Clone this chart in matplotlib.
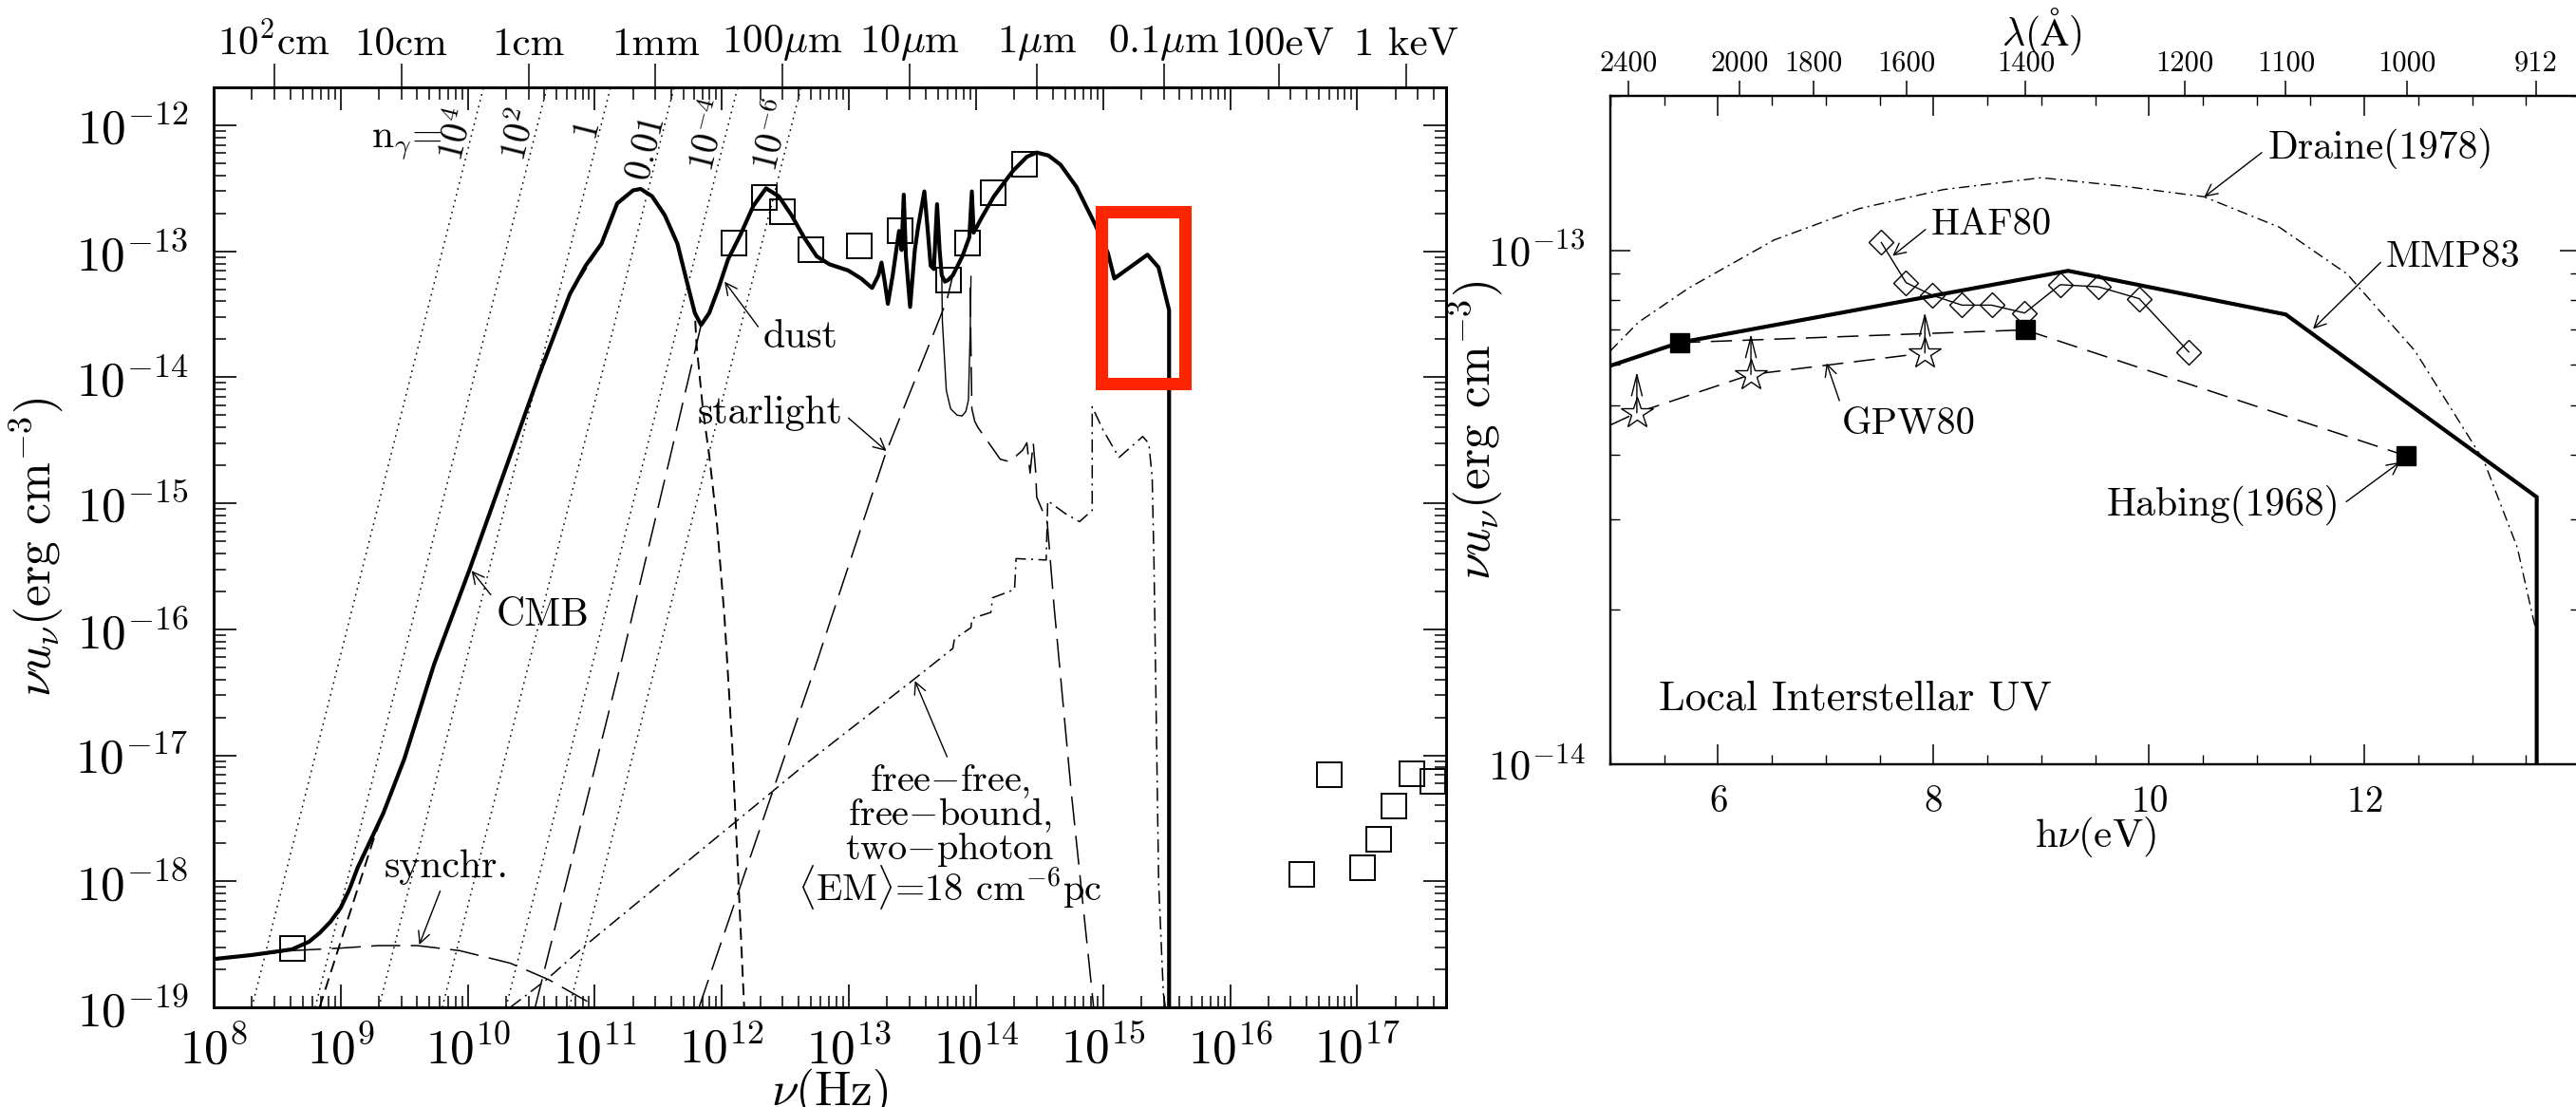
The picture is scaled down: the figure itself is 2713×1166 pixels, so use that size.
import numpy as np
import matplotlib
matplotlib.use('Agg')
import matplotlib.pyplot as plt
import matplotlib.ticker as mticker
from matplotlib.patches import Rectangle

# ---------------- left panel: values as log10(nu/Hz), log10(nu u_nu / erg cm^-3) ----------------
TOTAL_LOGNU = [8.0, 8.3, 8.617, 8.75, 8.834, 8.92, 9.0, 9.07, 9.134, 9.335, 9.50, 9.734, 10.016,
               10.565, 10.803, 10.927, 11.052, 11.176, 11.30, 11.36, 11.45, 11.55, 11.65, 11.724,
               11.787, 11.836, 11.90, 11.974, 12.048, 12.148, 12.248, 12.347, 12.447, 12.547,
               12.646, 12.746, 12.846, 12.995, 13.095, 13.182, 13.232, 13.256, 13.281, 13.306,
               13.344, 13.394, 13.414, 13.431, 13.448, 13.481, 13.518, 13.543, 13.593, 13.618,
               13.643, 13.668, 13.693, 13.713, 13.730, 13.755, 13.780, 13.817, 13.892, 13.947,
               13.967, 13.981, 14.041, 14.141, 14.29, 14.40, 14.477, 14.57, 14.664, 14.789,
               14.938, 15.038, 15.088, 15.349, 15.436, 15.519, 15.519]
TOTAL_LOGU = [-18.617, -18.585, -18.54, -18.48, -18.41, -18.32, -18.21, -18.06, -17.89, -17.46,
              -17.03, -16.28, -15.52, -13.97, -13.341, -13.115, -12.94, -12.62, -12.517, -12.505,
              -12.563, -12.713, -12.94, -13.24, -13.49, -13.585, -13.49, -13.29, -13.065, -12.864,
              -12.638, -12.50, -12.563, -12.713, -12.889, -13.04, -13.103, -13.153, -13.216,
              -13.291, -13.191, -13.090, -13.241, -13.417, -13.191, -12.839, -12.990, -12.550,
              -13.040, -13.442, -12.990, -12.814, -12.525, -12.814, -13.115, -13.141, -12.626,
              -12.990, -13.191, -13.241, -13.228, -13.191, -13.040, -12.889, -12.525, -12.852,
              -12.739, -12.563, -12.362, -12.25, -12.216, -12.24, -12.312, -12.487, -12.789,
              -13.015, -13.216, -13.027, -13.128, -13.467, -19.5]

CMB_LOGNU = [8.834, 9.05, 9.267, 9.335, 9.50, 9.734, 10.016, 10.565, 10.803, 11.052, 11.176,
             11.30, 11.36, 11.45, 11.55, 11.65, 11.724, 11.787, 11.80, 11.85, 11.90, 11.96,
             12.02, 12.08, 12.13, 12.175]
CMB_LOGU = [-19.0, -18.32, -17.64, -17.46, -17.03, -16.28, -15.52, -13.97, -13.341, -12.94,
            -12.62, -12.517, -12.505, -12.563, -12.713, -12.94, -13.24, -13.49, -13.74, -14.25,
            -14.62, -15.15, -15.9, -16.9, -18.0, -19.0]

DUST_LOGNU = [10.53, 11.203, 11.381, 11.60, 11.836]
DUST_LOGU = [-19.0, -16.28, -15.527, -14.6, -13.585]

DUST_THIN_LOGNU = [13.73, 13.735, 13.766, 13.80, 13.85, 13.89, 13.92, 13.94, 13.954, 13.96]
DUST_THIN_LOGU = [-13.19, -13.558, -14.106, -14.25, -14.30, -14.307, -14.27, -14.18, -13.63, -13.2]

STAR_LOGNU = [11.82, 12.74, 13.29, 13.77, 13.817]
STAR_LOGU = [-19.0, -16.28, -14.6, -13.39, -13.191]

STAR_TAIL_LOGNU = [13.953, 13.967, 13.99, 14.016, 14.19, 14.265, 14.365, 14.40, 14.425, 14.45,
                   14.47, 14.477, 14.56, 14.614, 14.75, 14.91, 14.925]
STAR_TAIL_LOGU = [-13.29, -14.25, -14.35, -14.40, -14.65, -14.67, -14.58, -14.52, -14.76, -14.52,
                  -14.76, -14.95, -15.15, -15.82, -17.3, -18.85, -19.0]

SYNCH_LOGNU = [8.0, 8.3, 8.617, 9.0, 9.3, 9.6, 9.935, 10.335, 10.636, 10.97, 11.02]
SYNCH_LOGU = [-18.62, -18.59, -18.55, -18.53, -18.51, -18.51, -18.55, -18.65, -18.78, -18.97, -19.0]

FF_LOGNU = [10.335, 10.62, 10.90, 12.37, 12.67, 13.52, 13.817, 13.83, 13.96, 13.967, 14.116,
            14.13, 14.303, 14.315, 14.552, 14.564, 14.70, 14.814, 14.914, 14.914, 15.0, 15.125,
            15.312, 15.36, 15.386, 15.40, 15.437, 15.474, 15.49]
FF_LOGU = [-19.0, -18.78, -18.53, -17.31, -17.06, -16.39, -16.152, -16.077, -15.987, -15.914,
           -15.866, -15.75, -15.684, -15.439, -15.45, -14.98, -15.08, -15.146, -15.056, -14.234,
           -14.42, -14.636, -14.47, -14.526, -14.80, -15.457, -18.01, -18.89, -19.0]

DATA_LOGNU = [8.617, 12.098, 12.335, 12.479, 12.70, 13.08, 13.40, 13.787, 13.936, 14.132, 14.383,
              16.565, 16.78, 17.043, 17.17, 17.29, 17.427, 17.593]
DATA_LOGU = [-18.53, -12.934, -12.575, -12.688, -12.99, -12.96, -12.834, -13.228, -12.934, -12.533,
             -12.307, -17.948, -17.155, -17.889, -17.667, -17.406, -17.149, -17.207]

# photon occupation number lines, read at the bottom (1e-19) and top (2e-12) of the frame
NGAMMA_NU_LO = [2.0e8, 6.3e8, 2.0e9, 6.3e9, 2.0e10, 6.3e10]
NGAMMA_NU_HI = [1.33e10, 4.2e10, 1.33e11, 4.2e11, 1.33e12, 4.2e12]
NGAMMA_U = [1e-19, 2e-12]
NGAMMA_LABELS = [r'$10^4$', r'$10^2$', r'$1$', r'$0.01$', r'$10^{-4}$', r'$10^{-6}$']
NGAMMA_LABEL_NU = [8.3e9, 2.6e10, 8.9e10, 2.6e11, 8.2e11, 2.57e12]
NGAMMA_LABEL_U = [8.4e-13, 8.4e-13, 9.0e-13, 6.5e-13, 8.3e-13, 8.3e-13]

TOP_NU = [3e8, 3e9, 3e10, 3e11, 3e12, 3e13, 3e14, 3e15, 2.418e16, 2.418e17]
TOP_LABELS = [r'10$^2$cm', '10cm', '1cm', '1mm', r'100$\mu$m', r'10$\mu$m', r'1$\mu$m',
              r'0.1$\mu$m', '100eV', '1 keV']

HIGHLIGHT_NU = [9.64e14, 4.39e15]
HIGHLIGHT_U = [8.9e-15, 2.06e-13]

# ---------------- right panel: h nu (eV) vs nu u_nu (erg cm^-3) ----------------
MMP_EV = [5.0, 5.64, 9.25, 11.27, 13.6, 13.6]
MMP_U = [5.96e-14, 6.61e-14, 9.12e-14, 7.50e-14, 3.31e-14, 1e-14]

DRAINE_EV = [5.0, 5.26, 5.73, 6.52, 7.31, 8.09, 9.0, 9.79, 10.51, 11.21, 11.84, 12.47, 13.11,
             13.42, 13.56, 13.6]
DRAINE_U = [6.37e-14, 7.24e-14, 8.45e-14, 1.047e-13, 1.205e-13, 1.312e-13, 1.384e-13, 1.33e-13,
            1.271e-13, 1.109e-13, 8.99e-14, 6.37e-14, 3.89e-14, 2.64e-14, 1.95e-14, 1.8e-14]

HABING_EV = [5.64, 8.85, 12.39]
HABING_U = [6.61e-14, 7.0e-14, 3.98e-14]

GPW_LINE_EV = [5.0, 5.246, 6.305, 7.92]
GPW_LINE_U = [4.57e-14, 4.83e-14, 5.73e-14, 6.31e-14]
GPW_EV = [5.246, 6.305, 7.92]
GPW_U = [4.83e-14, 5.73e-14, 6.31e-14]

HAF_EV = [7.516, 7.745, 7.99, 8.264, 8.54, 8.846, 9.176, 9.53, 9.91, 10.37]
HAF_U = [1.035e-13, 8.65e-14, 8.17e-14, 7.82e-14, 7.82e-14, 7.55e-14, 8.57e-14, 8.49e-14,
         8.05e-14, 6.34e-14]

LAMBDA_TICKS = [2400, 2000, 1800, 1600, 1400, 1200, 1100, 1000, 912]
HC_EV_ANGSTROM = 12398.42

W, H = 2713, 1166

plt.rcParams['font.family'] = 'cmr10'
plt.rcParams['mathtext.fontset'] = 'cm'
plt.rcParams['axes.unicode_minus'] = False
plt.rcParams['axes.formatter.use_mathtext'] = True
plt.rcParams['lines.scale_dashes'] = False

SHORT_DASH = (0, (9, 5))
LONG_DASH = (0, (22, 8))
DASH_DOT = (0, (10, 4, 1.5, 4))
DOTTED = (0, (1.2, 3.4))


def pw(a):
    return np.power(10.0, np.asarray(a, dtype=float))


def note(axis, text, tip, at, relpos, size, **kw):
    axis.annotate(text, xy=tip, xytext=at, ha='center', va='center', fontsize=size,
                  arrowprops=dict(arrowstyle='->', mutation_scale=22, lw=1.0, color='k',
                                  relpos=relpos, shrinkA=3, shrinkB=0), **kw)


fig = plt.figure(figsize=(W / 100, H / 100), dpi=100)

# ======================= left panel =======================
ax = fig.add_axes([225 / W, (H - 1061) / H, 1298 / W, 969 / H])
ax.set_xscale('log')
ax.set_yscale('log')
ax.set_xlim(1e8, 5e17)
ax.set_ylim(1e-19, 2e-12)

for lo, hi in zip(NGAMMA_NU_LO, NGAMMA_NU_HI):
    ax.plot([lo, hi], NGAMMA_U, color='k', lw=1.1, ls=DOTTED)

ax.plot(pw(SYNCH_LOGNU), pw(SYNCH_LOGU), color='k', lw=1.1, ls=LONG_DASH)
ax.plot(pw(CMB_LOGNU), pw(CMB_LOGU), color='k', lw=1.4, ls=SHORT_DASH)
ax.plot(pw(DUST_LOGNU), pw(DUST_LOGU), color='k', lw=1.1, ls=LONG_DASH)
ax.plot(pw(STAR_LOGNU), pw(STAR_LOGU), color='k', lw=1.1, ls=LONG_DASH)
ax.plot(pw(STAR_TAIL_LOGNU), pw(STAR_TAIL_LOGU), color='k', lw=1.1, ls=LONG_DASH)
ax.plot(pw(DUST_THIN_LOGNU), pw(DUST_THIN_LOGU), color='k', lw=1.0)
ax.plot(pw(FF_LOGNU), pw(FF_LOGU), color='k', lw=1.1, ls=DASH_DOT)
ax.plot(pw(TOTAL_LOGNU), pw(TOTAL_LOGU), color='k', lw=3.0, solid_joinstyle='round')
ax.plot(pw(DATA_LOGNU), pw(DATA_LOGU), ls='none', marker='s', ms=18.4, mfc='none',
        mec='k', mew=1.4)

ax.add_patch(Rectangle((HIGHLIGHT_NU[0], HIGHLIGHT_U[0]), HIGHLIGHT_NU[1] - HIGHLIGHT_NU[0],
                       HIGHLIGHT_U[1] - HIGHLIGHT_U[0], fill=False, ec='#ff2400', lw=9.4,
                       joinstyle='miter', zorder=10, clip_on=False))

ax.text(3.29e9, 7.2e-13, r'n$_\gamma$=', fontsize=30, ha='center', va='center')
for lab, x, y in zip(NGAMMA_LABELS, NGAMMA_LABEL_NU, NGAMMA_LABEL_U):
    ax.text(x, y, lab, fontsize=28, rotation=76, rotation_mode='anchor',
            ha='center', va='center')

note(ax, 'dust', (1.05e12, 5.74e-14), (4.16e12, 2.09e-14), (0, 0.6), 30)
note(ax, 'starlight', (1.97e13, 2.6e-15), (2.40e12, 5.2e-15), (1, 0.5), 30)
note(ax, 'CMB', (1.07e10, 2.92e-16), (3.86e10, 1.29e-16), (0, 0.9), 30)
note(ax, 'synchr.', (4.15e9, 3.14e-19), (6.78e9, 1.30e-18), (0.47, 0), 30)
note(ax, 'free$-$free,\nfree$-$bound,\ntwo$-$photon\n'
         r'$\langle$EM$\rangle$=18 cm$^{-6}$pc',
     (3.3e13, 3.9e-17), (6.2e13, 2.24e-18), (0.5, 1), 29, linespacing=0.85,
     multialignment='center')

ax.xaxis.set_major_locator(mticker.LogLocator(base=10, numticks=30))
ax.xaxis.set_minor_locator(mticker.LogLocator(base=10, subs=np.arange(2, 10), numticks=300))
ax.yaxis.set_major_locator(mticker.LogLocator(base=10, numticks=30))
ax.yaxis.set_minor_locator(mticker.LogLocator(base=10, subs=np.arange(2, 10), numticks=300))
ax.xaxis.set_minor_formatter(mticker.NullFormatter())
ax.yaxis.set_minor_formatter(mticker.NullFormatter())

ax.set_xlabel(r'$\nu$(Hz)', fontsize=37)
ax.xaxis.set_label_coords(0.5, -0.064)
ax.set_ylabel(r'$\nu u_\nu$(erg cm$^{-3}$)', fontsize=37)
ax.yaxis.set_label_coords(-0.1202, 0.5)

axt = ax.twiny()
axt.set_xscale('log')
axt.set_xlim(ax.get_xlim())
axt.xaxis.set_major_locator(mticker.FixedLocator(TOP_NU))
axt.xaxis.set_major_formatter(mticker.FixedFormatter(TOP_LABELS))
axt.xaxis.set_minor_locator(mticker.NullLocator())
axt.tick_params(axis='x', direction='out', length=18, width=1.1, pad=1, labelsize=31)

ax.tick_params(which='both', direction='in', top=True, right=True, labeltop=False,
               labelright=False)
ax.tick_params(which='major', length=17, width=1.2, labelsize=37)
ax.tick_params(which='minor', length=9, width=1.1)
ax.tick_params(axis='y', pad=19)
ax.tick_params(axis='x', pad=14)
for a in (ax, axt):
    for s in a.spines.values():
        s.set_linewidth(2.0)

# ======================= right panel =======================
bx = fig.add_axes([1696 / W, (H - 805) / H, 1021 / W, 704.4 / H])
bx.set_yscale('log')
bx.set_xlim(5, 14)
bx.set_ylim(1e-14, 2e-13)

bx.plot(DRAINE_EV, DRAINE_U, color='k', lw=1.0, ls=(0, (8, 3.5, 1.5, 3.5)))
bx.plot(HABING_EV, HABING_U, color='k', lw=1.1, ls=(0, (16, 8)))
bx.plot(HABING_EV, HABING_U, ls='none', marker='s', ms=13.7, color='k')
bx.plot(GPW_LINE_EV, GPW_LINE_U, color='k', lw=1.1, ls=(0, (16, 8)))
bx.plot(GPW_EV, GPW_U, ls='none', marker='*', ms=25, mfc='white', mec='k', mew=1.0)
for x, y in zip(GPW_EV, GPW_U):
    bx.annotate('', xy=(x, y * 1.2), xytext=(x, y),
                arrowprops=dict(arrowstyle='->,head_length=0.8,head_width=0.2',
                                mutation_scale=20, lw=1.0, color='k', shrinkA=0, shrinkB=0))
bx.plot(HAF_EV, HAF_U, color='k', lw=1.0, marker='D', ms=13.5, mfc='none', mec='k', mew=1.0)
bx.plot(MMP_EV, MMP_U, color='k', lw=3.0, solid_joinstyle='miter')

note(bx, 'Draine(1978)', (10.514, 1.27e-13), (12.148, 1.58e-13), (0, 0.5), 30)
note(bx, 'MMP83', (11.523, 7.03e-14), (12.826, 9.7e-14), (0, 0.5), 29)
note(bx, 'Habing(1968)', (12.33, 3.87e-14), (10.695, 3.18e-14), (1, 0.5), 30)
note(bx, 'HAF80', (7.62, 9.75e-14), (8.539, 1.12e-13), (0, 0.5), 29)
note(bx, 'GPW80', (7.007, 6.03e-14), (7.773, 4.59e-14), (0, 0.95), 29)
bx.text(5.449, 1.34e-14, 'Local Interstellar UV', fontsize=32, ha='left', va='center')

bx.xaxis.set_major_locator(mticker.FixedLocator([6, 8, 10, 12]))
bx.xaxis.set_minor_locator(mticker.MultipleLocator(0.5))
bx.yaxis.set_major_locator(mticker.LogLocator(base=10, numticks=10))
bx.yaxis.set_minor_locator(mticker.LogLocator(base=10, subs=np.arange(2, 10), numticks=100))
bx.yaxis.set_minor_formatter(mticker.NullFormatter())

bx.set_xlabel(r'h$\nu$(eV)', fontsize=31)
bx.xaxis.set_label_coords(0.5, -0.075)
bx.set_ylabel(r'$\nu u_\nu$(erg cm$^{-3}$)', fontsize=37)
bx.yaxis.set_label_coords(-0.1087, 0.5)

bxt = bx.twiny()
bxt.set_xlim(bx.get_xlim())
bxt.xaxis.set_major_locator(mticker.FixedLocator([HC_EV_ANGSTROM / l for l in LAMBDA_TICKS]))
bxt.xaxis.set_major_formatter(mticker.FixedFormatter([str(l) for l in LAMBDA_TICKS]))
bxt.xaxis.set_minor_locator(mticker.NullLocator())
bxt.tick_params(axis='x', direction='out', length=11.5, width=1.1, pad=3, labelsize=22)
bxt.set_xlabel(r'$\lambda$($\mathrm{\AA}$)', fontsize=30)
bxt.xaxis.set_label_coords(0.445, 1.075)

bx.tick_params(which='both', direction='in', top=True, right=True, labeltop=False,
               labelright=False)
bx.tick_params(which='major', length=15, width=1.1)
bx.tick_params(which='minor', length=7.5, width=1.0)
bx.tick_params(axis='x', labelsize=28, pad=16)
bx.tick_params(axis='y', labelsize=32, pad=19)
for a in (bx, bxt):
    for s in a.spines.values():
        s.set_linewidth(1.6)

fig.savefig('out.png', dpi=100)
